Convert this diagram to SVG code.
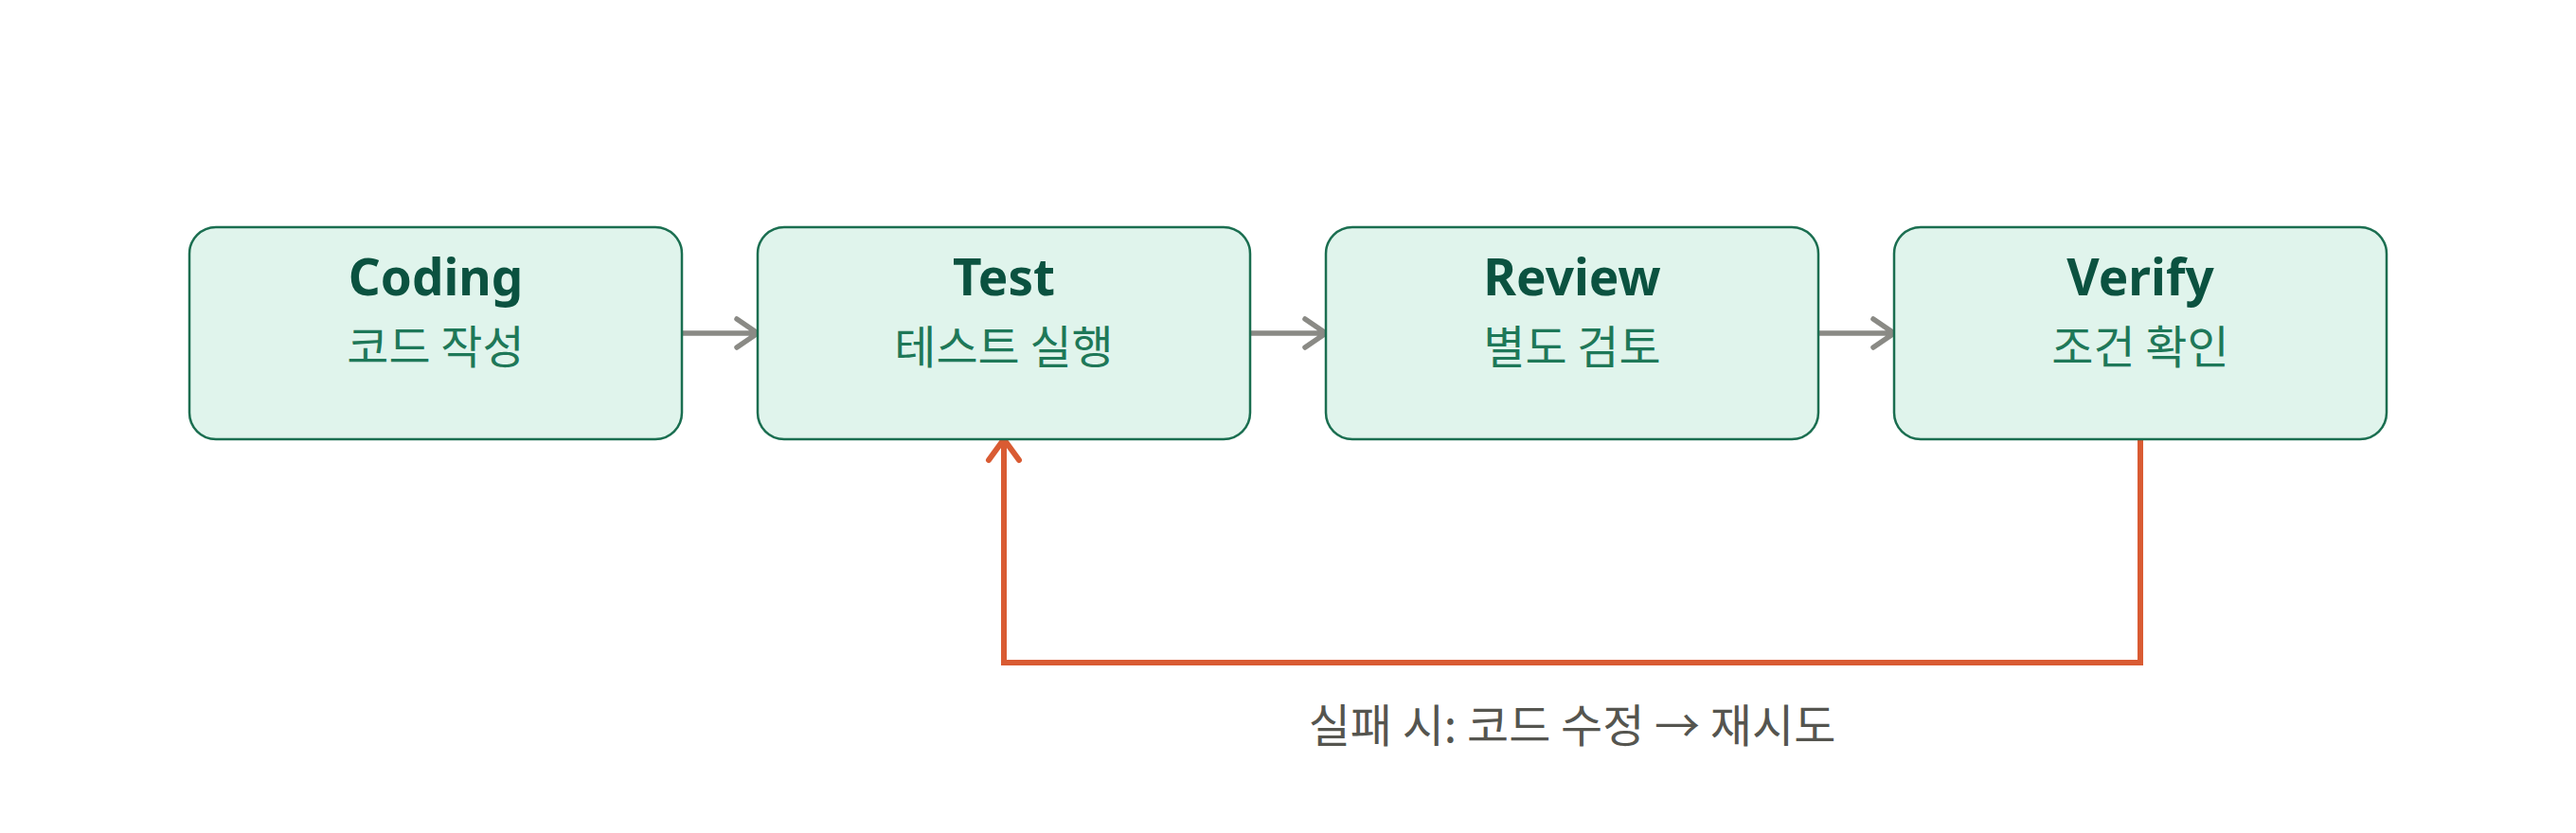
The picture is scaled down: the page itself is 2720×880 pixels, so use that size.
<svg xmlns="http://www.w3.org/2000/svg" width="2720" height="880" viewBox="0 0 2720 880">
<defs>
<style>
.box{fill:#E0F4EC;stroke:#1A6E50;stroke-width:2.5}
.title{font-family:"Noto Sans","Noto Sans CJK KR",sans-serif;font-weight:700;font-size:53px;fill:#0B5240;text-anchor:middle}
.sub{font-family:"Noto Sans CJK KR",sans-serif;font-size:48px;fill:#1E7858;text-anchor:middle}
.flow{fill:none;stroke:#8A8A85;stroke-width:5.5;stroke-linecap:round;stroke-linejoin:round}
.back{fill:none;stroke:#D95B33;stroke-width:6}
.head{fill:none;stroke:#D95B33;stroke-width:6;stroke-linecap:round;stroke-linejoin:round}
.label{font-family:"Noto Sans CJK KR",sans-serif;font-size:48px;fill:#55554F;text-anchor:middle}
</style>
</defs>
<rect width="2720" height="880" fill="#FFFFFF"/>
<g id="connectors">
<path class="flow" d="M720 352H798M778 337L800 352L778 367"/>
<path class="flow" d="M1320 352H1398M1378 337L1400 352L1378 367"/>
<path class="flow" d="M1920 352H1998M1978 337L2000 352L1978 367"/>
<path class="back" d="M2260 464V700H1060V468"/>
<path class="head" d="M1044 486L1060 464L1076 486"/>
<text class="label" x="1660" y="784">실패 시: 코드 수정 → 재시도</text>
</g>
<g id="node-coding">
<rect class="box" x="200" y="240" width="520" height="224" rx="28"/>
<text class="title" x="460" y="312">Coding</text>
<text class="sub" x="460" y="384">코드 작성</text>
</g>
<g id="node-test">
<rect class="box" x="800" y="240" width="520" height="224" rx="28"/>
<text class="title" x="1060" y="312">Test</text>
<text class="sub" x="1060" y="384">테스트 실행</text>
</g>
<g id="node-review">
<rect class="box" x="1400" y="240" width="520" height="224" rx="28"/>
<text class="title" x="1660" y="312">Review</text>
<text class="sub" x="1660" y="384">별도 검토</text>
</g>
<g id="node-verify">
<rect class="box" x="2000" y="240" width="520" height="224" rx="28"/>
<text class="title" x="2260" y="312">Verify</text>
<text class="sub" x="2260" y="384">조건 확인</text>
</g>
</svg>
